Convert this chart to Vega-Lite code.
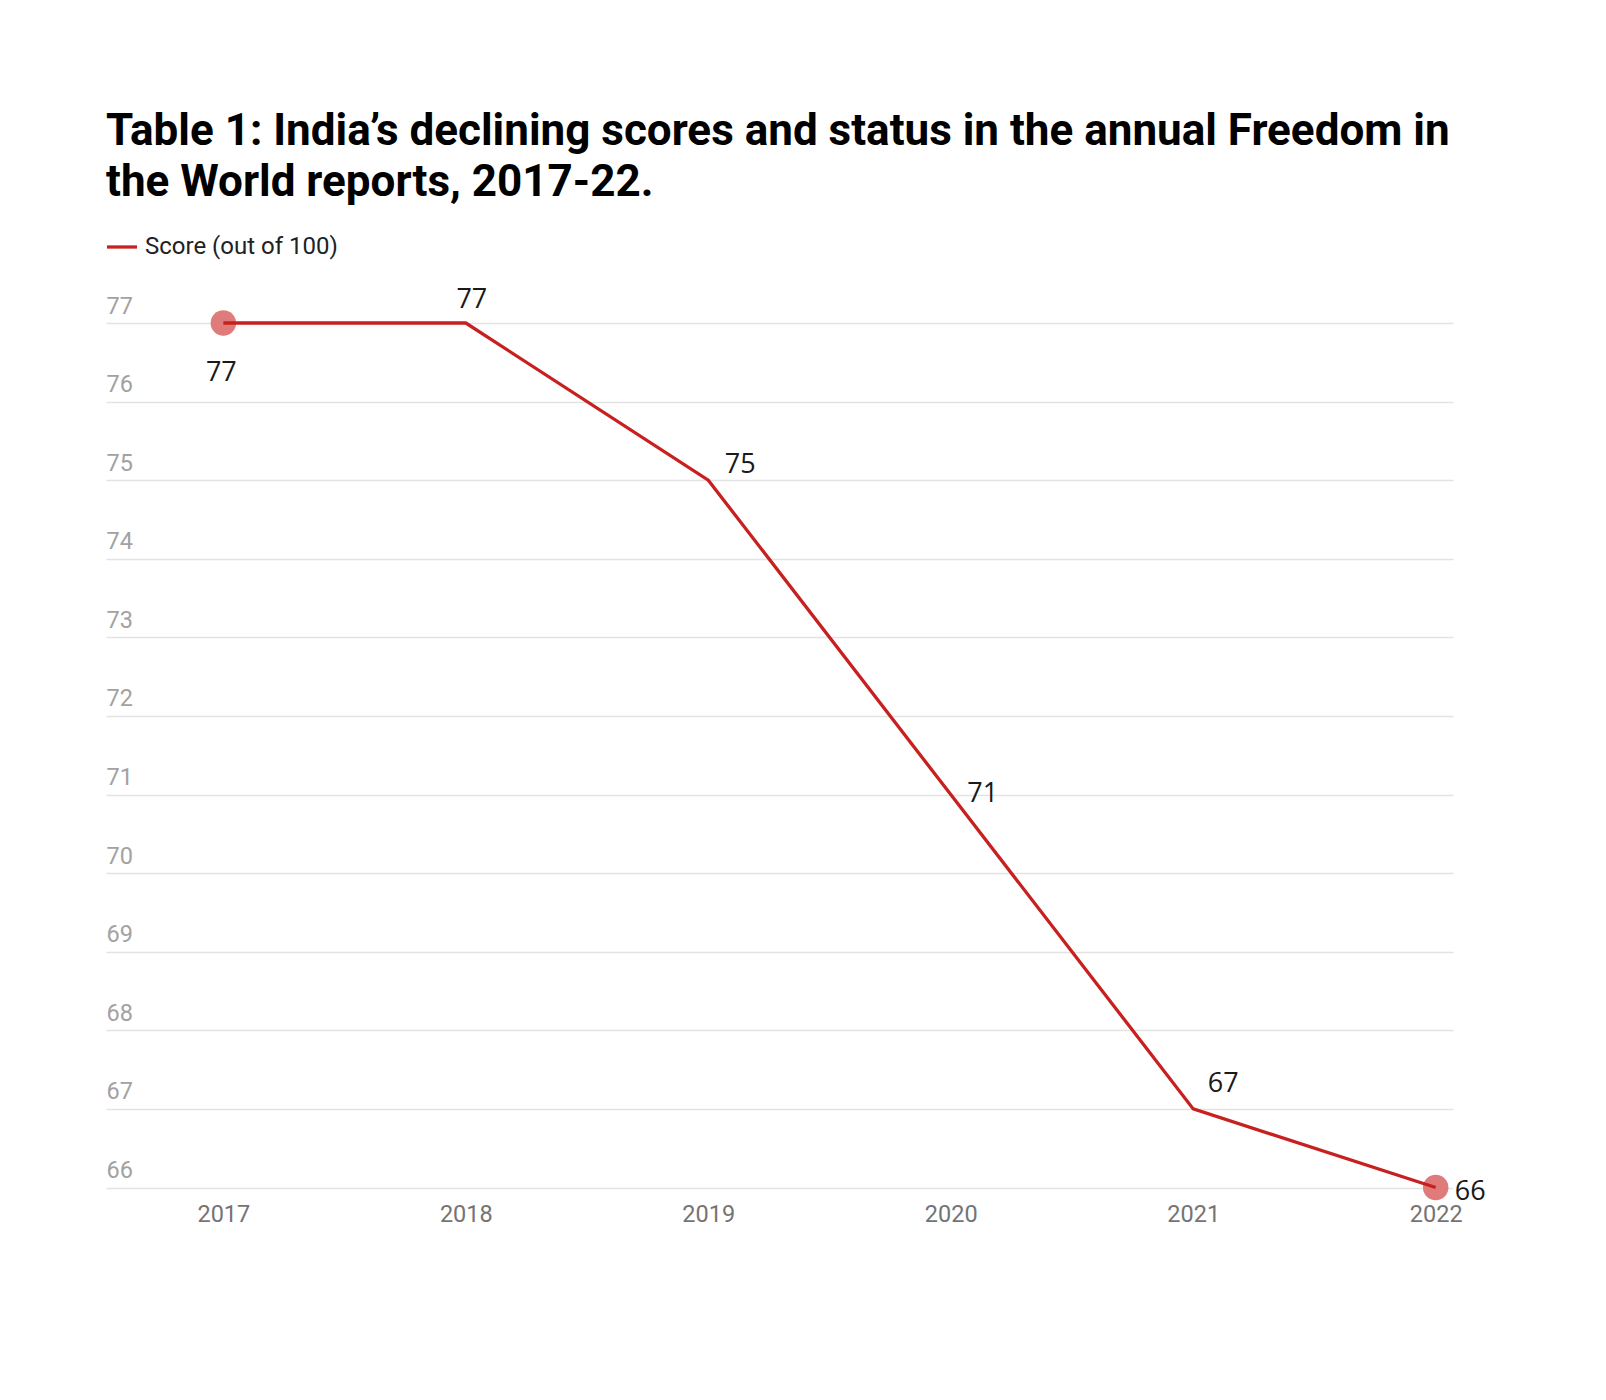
{
  "$schema": "https://vega.github.io/schema/vega-lite/v6.json",
  "autosize": "none",
  "width": 1347,
  "height": 864.5,
  "padding": {"left": 106, "top": 323, "right": 153, "bottom": 212},
  "background": "white",
  "title": {
    "text": ["Table 1: India’s declining scores and status in the annual Freedom in", "the World reports, 2017-22."],
    "font": "Roboto",
    "fontSize": 44,
    "fontWeight": "bold",
    "color": "#000000",
    "anchor": "start",
    "frame": "group",
    "lineHeight": 51,
    "offset": 25
  },
  "config": {
    "view": {"stroke": null},
    "font": "Roboto"
  },
  "data": {
    "values": [
      {"year": 2017, "score": 77},
      {"year": 2018, "score": 77},
      {"year": 2019, "score": 75},
      {"year": 2020, "score": 71},
      {"year": 2021, "score": 67},
      {"year": 2022, "score": 66}
    ]
  },
  "encoding": {
    "x": {
      "field": "year",
      "type": "quantitative",
      "scale": {"domain": [2016.516, 2022.0714], "nice": false, "zero": false},
      "axis": {
        "title": null,
        "values": [2017, 2018, 2019, 2020, 2021, 2022],
        "format": "d",
        "grid": false,
        "domain": false,
        "ticks": false,
        "tickSize": 0,
        "labelPadding": 34,
        "labelBaseline": "alphabetic",
        "labelFont": "Roboto",
        "labelFontSize": 23.5,
        "labelColor": "#747474",
        "labelFlush": false,
        "labelOverlap": false
      }
    },
    "y": {
      "field": "score",
      "type": "quantitative",
      "scale": {"domain": [66, 77], "nice": false, "zero": false},
      "axis": {
        "title": null,
        "values": [66, 67, 68, 69, 70, 71, 72, 73, 74, 75, 76, 77],
        "grid": true,
        "gridColor": "#e3e3e3",
        "gridWidth": 1.3,
        "domain": false,
        "ticks": false,
        "tickSize": 0,
        "labelPadding": 0,
        "labelAlign": "left",
        "labelBaseline": "alphabetic",
        "labelOffset": -10,
        "labelFont": "Roboto",
        "labelFontSize": 23.5,
        "labelColor": "#a2a2a2",
        "labelFlush": false,
        "labelOverlap": false
      }
    }
  },
  "layer": [
    {
      "transform": [{"filter": "datum.year == 2017 || datum.year == 2022"}],
      "mark": {"type": "circle", "size": 650, "color": "#e07b7b", "opacity": 1}
    },
    {
      "mark": {"type": "line", "strokeWidth": 3.3},
      "encoding": {
        "color": {
          "datum": "Score (out of 100)",
          "type": "nominal",
          "scale": {"range": ["#c8201f"]},
          "legend": {
            "title": null,
            "orient": "none",
            "legendX": -1,
            "legendY": -93,
            "symbolType": "stroke",
            "symbolStrokeWidth": 3.3,
            "symbolSize": 900,
            "labelFont": "Roboto",
            "labelFontSize": 24,
            "labelColor": "#222222",
            "labelOffset": 6,
            "labelLimit": 500,
            "padding": 0
          }
        }
      }
    },
    {
      "transform": [{"filter": "datum.year == 2017"}],
      "mark": {"type": "text", "font": "Open Sans", "fontSize": 27, "color": "#1a1a1a", "align": "center", "baseline": "alphabetic", "dx": -2, "dy": 58},
      "encoding": {"text": {"field": "score", "type": "quantitative"}}
    },
    {
      "transform": [{"filter": "datum.year == 2018"}],
      "mark": {"type": "text", "font": "Open Sans", "fontSize": 27, "color": "#1a1a1a", "align": "center", "baseline": "alphabetic", "dx": 6, "dy": -15},
      "encoding": {"text": {"field": "score", "type": "quantitative"}}
    },
    {
      "transform": [{"filter": "datum.year == 2019"}],
      "mark": {"type": "text", "font": "Open Sans", "fontSize": 27, "color": "#1a1a1a", "align": "center", "baseline": "alphabetic", "dx": 32, "dy": -7},
      "encoding": {"text": {"field": "score", "type": "quantitative"}}
    },
    {
      "transform": [{"filter": "datum.year == 2020"}],
      "mark": {"type": "text", "font": "Open Sans", "fontSize": 27, "color": "#1a1a1a", "align": "center", "baseline": "alphabetic", "dx": 32, "dy": 7},
      "encoding": {"text": {"field": "score", "type": "quantitative"}}
    },
    {
      "transform": [{"filter": "datum.year == 2021"}],
      "mark": {"type": "text", "font": "Open Sans", "fontSize": 27, "color": "#1a1a1a", "align": "center", "baseline": "alphabetic", "dx": 30, "dy": -17},
      "encoding": {"text": {"field": "score", "type": "quantitative"}}
    },
    {
      "transform": [{"filter": "datum.year == 2022"}],
      "mark": {"type": "text", "font": "Open Sans", "fontSize": 27, "color": "#1a1a1a", "align": "left", "baseline": "alphabetic", "dx": 19, "dy": 12},
      "encoding": {"text": {"field": "score", "type": "quantitative"}}
    }
  ]
}
